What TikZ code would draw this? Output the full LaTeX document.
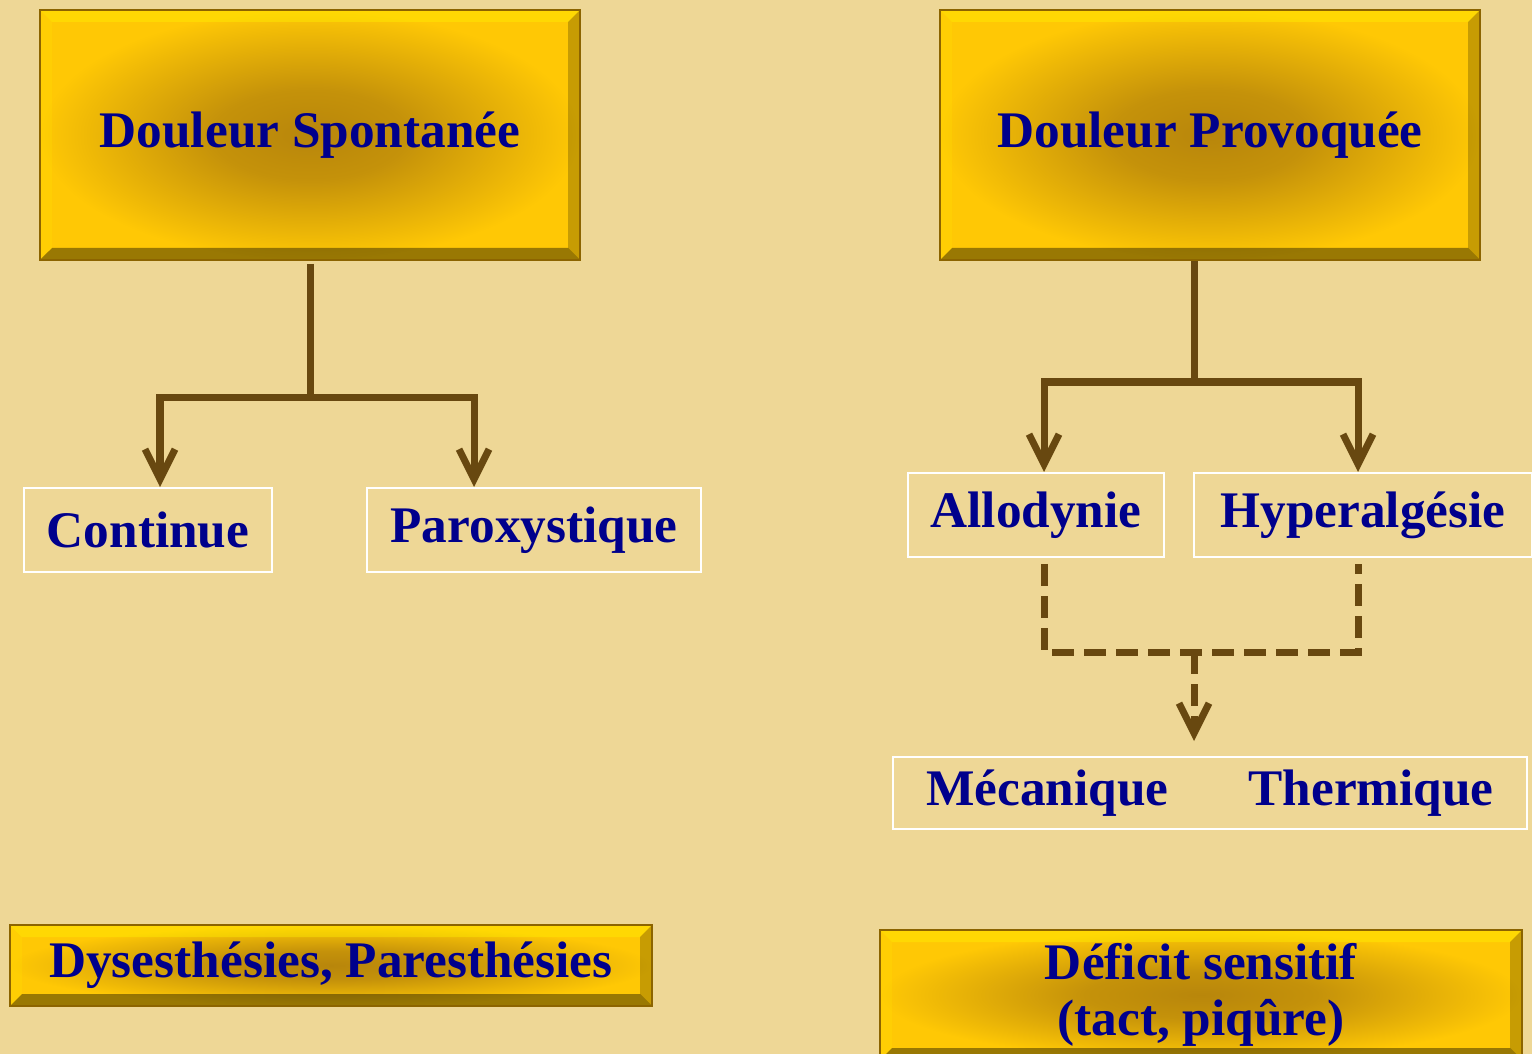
\documentclass[tikz,border=0pt]{standalone}
\usepackage{fontspec}
\setmainfont{Liberation Serif}
\usepackage{tikz}
\usetikzlibrary{arrows.meta,positioning}
\usepackage{xcolor}
\definecolor{dlbg}{RGB}{238,215,150}
\definecolor{dlgold}{RGB}{255,200,5}
\definecolor{dldark}{RGB}{184,134,11}
\definecolor{dlrim}{RGB}{140,100,0}
\definecolor{dlbrown}{RGB}{104,72,16}
\definecolor{dlblue}{RGB}{0,0,140}
\newcommand{\lblfont}{\fontsize{14.6}{16}\selectfont\bfseries}
\pgfdeclareradialshading{goldshade}{\pgfpoint{0bp}{0bp}}{color(0bp)=(dldark); color(9bp)=(dldark!82!dlgold); color(25bp)=(dlgold); color(50bp)=(dlgold)}
\tikzstyle{link} = [line width=0.07cm, color=dlbrown]
\tikzstyle{branch} = [link, -{Straight Barb[length=0.3cm,width=0.3cm]}]
\tikzstyle{dlink} = [link, dash pattern=on 0.22cm off 0.1cm]
\tikzstyle{plainbox} = [rectangle, draw=white, line width=0.02cm, inner sep=0pt, text=dlblue, font=\lblfont]
\tikzstyle{goldbox} = [rectangle, inner sep=0pt, shading=goldshade, draw=dlrim, line width=0.5pt, text=dlblue, font=\lblfont, align=center,
  path picture={
    \path (path picture bounding box.north west) coordinate (bnw)
          (path picture bounding box.north east) coordinate (bne)
          (path picture bounding box.south east) coordinate (bse)
          (path picture bounding box.south west) coordinate (bsw);
    % bevel: top, left, right, bottom
    \fill[yellow, opacity=0.4] (bnw) -- (bne) -- ([shift={(-0.12,-0.12)}]bne) -- ([shift={(0.12,-0.12)}]bnw) -- cycle;
    \fill[yellow, opacity=0.15] (bnw) -- ([shift={(0.12,-0.12)}]bnw) -- ([shift={(0.12,0.12)}]bsw) -- (bsw) -- cycle;
    \fill[black, opacity=0.22] (bne) -- (bse) -- ([shift={(-0.12,0.12)}]bse) -- ([shift={(-0.12,-0.12)}]bne) -- cycle;
    \fill[black, opacity=0.4] (bsw) -- ([shift={(0.12,0.12)}]bsw) -- ([shift={(-0.12,0.12)}]bse) -- (bse) -- cycle;
  }]

\begin{document}
\begin{tikzpicture}
% Background
\fill[dlbg] (0,0) rectangle (15.32,-10.54);
\useasboundingbox (0,0) rectangle (15.32,-10.54);

% Main categories
\node[goldbox, minimum width=5.4cm, minimum height=2.5cm] (spont) at (3.10,-1.35) {Douleur Spontanée};
\node[goldbox, minimum width=5.4cm, minimum height=2.5cm] (prov) at (12.10,-1.35) {Douleur Provoquée};

% Sub-types
\node[plainbox, minimum width=2.48cm, minimum height=0.84cm] (cont) at (1.48,-5.30) {Continue};
\node[plainbox, minimum width=3.34cm, minimum height=0.84cm] (parox) at (5.34,-5.30) {Paroxystique};
\node[plainbox, minimum width=2.56cm, minimum height=0.84cm] (allo) at (10.36,-5.15) {Allodynie};
\node[plainbox, minimum width=3.38cm, minimum height=0.84cm] (hyper) at (13.63,-5.15) {Hyperalgésie};
\node[plainbox, minimum width=6.34cm, minimum height=0.72cm] (meca) at (12.10,-7.93) {Mécanique\hspace{0.8cm}Thermique};

% Bottom labels
\node[goldbox, minimum width=6.42cm, minimum height=0.81cm] (dys) at (3.31,-9.655) {Dysesthésies, Paresthésies};
\node[goldbox, minimum width=6.42cm, minimum height=1.30cm] (defi) at (12.01,-9.95) {Déficit sensitif\\(tact, piqûre)};

% Branch points
\coordinate (splitL) at (3.10,-3.98);
\coordinate (splitR) at (11.94,-3.82);
\coordinate (joinD) at (11.94,-6.52);

% Left tree
\draw[link] ([yshift=-0.03cm]spont.south) -- (splitL);
\draw[branch] (splitL) -| ([xshift=0.12cm]cont.north);
\draw[branch] (splitL) -| ([xshift=-0.60cm]parox.north);

% Right tree
\draw[link] (prov.south -| splitR) -- (splitR);
\draw[branch] (splitR) -| ([xshift=0.08cm]allo.north);
\draw[branch] (splitR) -| ([xshift=-0.05cm]hyper.north);

% Dashed join
\draw[dlink] ([xshift=0.08cm,yshift=-0.06cm]allo.south) |- (joinD) -| ([xshift=-0.05cm,yshift=-0.06cm]hyper.south);
\draw[dlink, -{Straight Barb[length=0.3cm,width=0.3cm]}, shorten >=0.15cm] (joinD) -- (joinD |- meca.north);
\end{tikzpicture}
\end{document}
